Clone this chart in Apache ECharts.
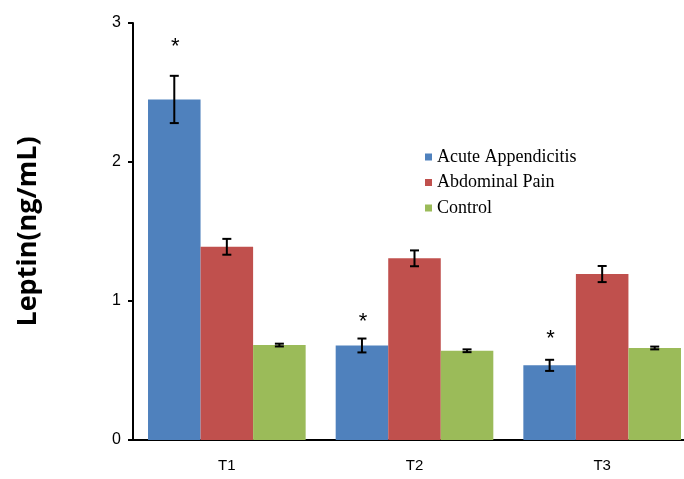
<!DOCTYPE html>
<html>
<head>
<meta charset="utf-8">
<script src="https://cdn.jsdelivr.net/npm/echarts@6/dist/echarts.min.js"></script>
<style>html,body{margin:0;padding:0;background:#fff;overflow:hidden;}#c{width:700px;height:479px;}</style>
</head>
<body>
<div id="c"></div>
<script>
var categories = ['T1', 'T2', 'T3'];
var seriesNames = ['Acute Appendicitis', 'Abdominal Pain', 'Control'];
var acuteValues = [2.45, 0.68, 0.537];
var acuteErrors = [0.17, 0.05, 0.04];
var painValues = [1.39, 1.307, 1.194];
var painErrors = [0.057, 0.057, 0.058];
var controlValues = [0.683, 0.642, 0.662];
var controlErrors = [0.01, 0.01, 0.01];
var starValues = [2.83, 0.85, 0.727]; // asterisk positions over Acute Appendicitis bars
var yTicks = [0, 1, 2, 3];

var colors = ['#4F81BD', '#C0504D', '#9BBB59'];
var values = [acuteValues, painValues, controlValues];
var errors = [acuteErrors, painErrors, controlErrors];
var catGap = 0.16;

var chart = echarts.init(document.getElementById('c'), null, {renderer: 'canvas'});

function errorSeries(idx) {
  var data = categories.map(function (c, i) {
    return [i, values[idx][i] - errors[idx][i], values[idx][i] + errors[idx][i]];
  });
  return {
    type: 'custom',
    name: seriesNames[idx] + ' error',
    z: 5,
    renderItem: function (params, api) {
      var ci = api.value(0);
      var lo = api.coord([ci, api.value(1)]);
      var hi = api.coord([ci, api.value(2)]);
      var bw = api.size([1, 0])[0] * (1 - catGap) / 3;
      var x = lo[0] + (idx - 1) * bw;
      var cap = 4.5;
      var style = {stroke: '#000', lineWidth: 2};
      return {
        type: 'group',
        children: [
          {type: 'line', shape: {x1: x, y1: hi[1], x2: x, y2: lo[1]}, style: style},
          {type: 'line', shape: {x1: x - cap, y1: hi[1], x2: x + cap, y2: hi[1]}, style: style},
          {type: 'line', shape: {x1: x - cap, y1: lo[1], x2: x + cap, y2: lo[1]}, style: style}
        ]
      };
    },
    data: data,
    silent: true
  };
}

var series = [];
for (var s = 0; s < 3; s++) {
  series.push({
    type: 'bar',
    name: seriesNames[s],
    data: values[s],
    barGap: '0%',
    barCategoryGap: (catGap * 100) + '%',
    itemStyle: {color: colors[s]},
    silent: true
  });
}
for (var s2 = 0; s2 < 3; s2++) series.push(errorSeries(s2));
series.push({
  type: 'custom',
  name: 'stars',
  z: 6,
  renderItem: function (params, api) {
    var ci = api.value(0);
    var p = api.coord([ci, api.value(1)]);
    var bw = api.size([1, 0])[0] * (1 - catGap) / 3;
    return {
      type: 'text',
      x: p[0] - bw + 1,
      y: p[1],
      style: {text: '*', font: '22px "Liberation Sans", sans-serif', fill: '#000', align: 'center', verticalAlign: 'middle'}
    };
  },
  data: categories.map(function (c, i) { return [i, starValues[i]]; }),
  silent: true
});

chart.setOption({
  animation: false,
  backgroundColor: '#fff',
  grid: {left: 133, top: 23, bottom: 39, right: 4, containLabel: false},
  legend: {
    data: seriesNames,
    orient: 'vertical',
    left: 420,
    top: 143,
    itemWidth: 7,
    itemHeight: 7,
    itemGap: 7.5,
    icon: 'rect',
    textStyle: {fontFamily: '"Liberation Serif", serif', fontSize: 18, color: '#000', lineHeight: 18},
    selectedMode: false
  },
  xAxis: {
    type: 'category',
    data: categories,
    axisLine: {lineStyle: {color: '#000', width: 2}},
    axisTick: {show: false},
    axisLabel: {fontFamily: '"Liberation Sans", sans-serif', fontSize: 15, color: '#000', margin: 18}
  },
  yAxis: {
    type: 'value',
    min: yTicks[0],
    max: yTicks[yTicks.length - 1],
    interval: 1,
    name: 'Leptin(ng/mL)',
    nameLocation: 'middle',
    nameRotate: 90,
    nameGap: 91,
    nameTextStyle: {fontFamily: '"Open Sans", "Liberation Sans", sans-serif', fontWeight: 'bold', fontSize: 27, color: '#000'},
    splitLine: {show: false},
    axisLine: {show: true, lineStyle: {color: '#000', width: 2}},
    axisTick: {show: true, length: 5, lineStyle: {color: '#000', width: 2}},
    axisLabel: {fontFamily: '"Liberation Sans", sans-serif', fontSize: 16, color: '#000', margin: 12}
  },
  series: series
});
</script>
</body>
</html>
